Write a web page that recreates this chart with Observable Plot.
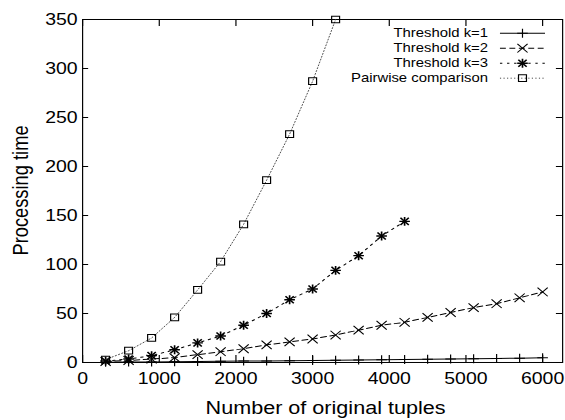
<!DOCTYPE html>
<html><head><meta charset="utf-8">
<script src="https://cdn.jsdelivr.net/npm/d3@7"></script>
<script src="https://cdn.jsdelivr.net/npm/@observablehq/plot@0.6"></script>
<style>
body{margin:0;background:#fff;}
#chart{width:565px;height:420px;overflow:hidden;}
#chart svg{display:block;transform:scaleX(1.18);transform-origin:0 0;background:#fff;}
</style></head><body><div id="chart"></div>
<script>
// ---- data ----
const thresholdX = [300,600,900,1200,1500,1800,2100,2400,2700,3000,3300,3600,3900,4200,4500,4800,5100,5400,5700,6000];
const k1 = [0.2,0.4,0.6,0.8,1.0,1.2,1.4,1.6,1.8,2.0,2.2,2.5,2.7,3.0,3.2,3.5,3.8,4.1,4.4,4.8];
const k2 = [1,2,3.5,5,8,11,14,18,21,24,28,33,38,41,46,51,56,60,66,72];
const k3X = [300,600,900,1200,1500,1800,2100,2400,2700,3000,3300,3600,3900,4200];
const k3 = [1.5,3.5,7,13,20,27,38,50,64,75,94,109,129,144];
const pairX = [300,600,900,1200,1500,1800,2100,2400,2700,3000,3300];
const pairwise = [3,12,25,46,74,103,141,186,233,287,350];
const seriesNames = ["Threshold k=1","Threshold k=2","Threshold k=3","Pairwise comparison"];
const xTicks = [0,1000,2000,3000,4000,5000,6000];
const yTicks = [0,50,100,150,200,250,300,350];
const xLabel = "Number of original tuples";
const yLabel = "Processing time";

// ---- layout / styles ----
const STRETCH = 1.18;
const W = 565 / STRETCH, H = 420;
const mL = 69.5, mR = 2.5, mT = 19, mB = 58;
const fw = W - mL - mR, fh = H - mT - mB;
const FONT = "'Liberation Sans', Arial, Helvetica, sans-serif";
const styles = [
  {dash: null, width: 1, color: "black", marks: [{symbol: "plus", r: 3, sw: 1}]},
  {dash: "5,3", width: 1, color: "black", marks: [{symbol: "times", r: 4, sw: 1}]},
  {dash: "2,4", width: 1, color: "black", marks: [{symbol: "plus", r: 3, sw: 1.4}, {symbol: "times", r: 3.3, sw: 1.4}]},
  {dash: "1,2", width: 0.8, color: "#333", marks: [{symbol: "square", r: 3.8, sw: 1}]}
];
const rows = (xs, ys) => xs.map((x, i) => ({x, y: ys[i]}));
const series = [rows(thresholdX, k1), rows(thresholdX, k2), rows(k3X, k3), rows(pairX, pairwise)];
const fmt = d => String(d);

const marks = [
  Plot.frame({stroke: "black", strokeWidth: 1}),
  Plot.tickX(xTicks, {x: d => d, insetTop: fh - 7, stroke: "black"}),
  Plot.tickX(xTicks, {x: d => d, insetBottom: fh - 7, stroke: "black"}),
  Plot.tickY(yTicks, {y: d => d, insetRight: fw - 5.2, stroke: "black"}),
  Plot.tickY(yTicks, {y: d => d, insetLeft: fw - 5.2, stroke: "black"}),
  Plot.axisX(xTicks, {tickSize: 0, tickPadding: 10, label: null, tickFormat: fmt}),
  Plot.axisY(yTicks, {tickSize: 0, tickPadding: 4.2, label: null, tickFormat: fmt})
];
series.forEach((data, i) => {
  const st = styles[i];
  marks.push(Plot.line(data, {x: "x", y: "y", stroke: st.color, strokeWidth: st.width, strokeDasharray: st.dash}));
  st.marks.forEach(m => marks.push(Plot.dot(data, {x: "x", y: "y", symbol: m.symbol, r: m.r, stroke: "black", fill: "none", strokeWidth: m.sw})));
});

const svgEl = Plot.plot({
  width: W, height: H,
  marginLeft: mL, marginRight: mR, marginTop: mT, marginBottom: mB,
  x: {domain: [0, 6261], label: null},
  y: {domain: [0, 350], label: null},
  style: {fontSize: "16.5px", fontFamily: FONT, color: "black", background: "white"},
  marks
});
document.getElementById("chart").appendChild(svgEl);

// ---- axis titles and legend ----
const svg = d3.select(svgEl);
svg.append("text").attr("x", mL + fw / 2 + 3).attr("y", 414)
  .attr("text-anchor", "middle").attr("font-size", 18.3).attr("font-family", FONT).attr("fill", "black").text(xLabel);
svg.append("text").attr("transform", `translate(24,${mT + fh / 2}) rotate(-90)`)
  .attr("text-anchor", "middle").attr("font-size", 18.3).attr("font-family", FONT).attr("fill", "black").text(yLabel);

const symMap = {plus: d3.symbolPlus, times: d3.symbolTimes, square: d3.symbolSquare};
const lg = svg.append("g").attr("font-family", FONT).attr("font-size", 12.6);
seriesNames.forEach((name, i) => {
  const st = styles[i];
  const base = 37.5 + i * 15, my = base - 4.3;
  lg.append("text").attr("x", 413.6).attr("y", base).attr("text-anchor", "end").attr("fill", "black").text(name);
  lg.append("line").attr("x1", 423.7).attr("x2", 461.9).attr("y1", my).attr("y2", my)
    .attr("stroke", st.color).attr("stroke-width", st.width).attr("stroke-dasharray", st.dash);
  st.marks.forEach(m => {
    lg.append("path").attr("d", d3.symbol(symMap[m.symbol], Math.PI * m.r * m.r)())
      .attr("transform", `translate(442.8,${my})`).attr("fill", "none").attr("stroke", "black").attr("stroke-width", m.sw);
  });
});
</script></body></html>
